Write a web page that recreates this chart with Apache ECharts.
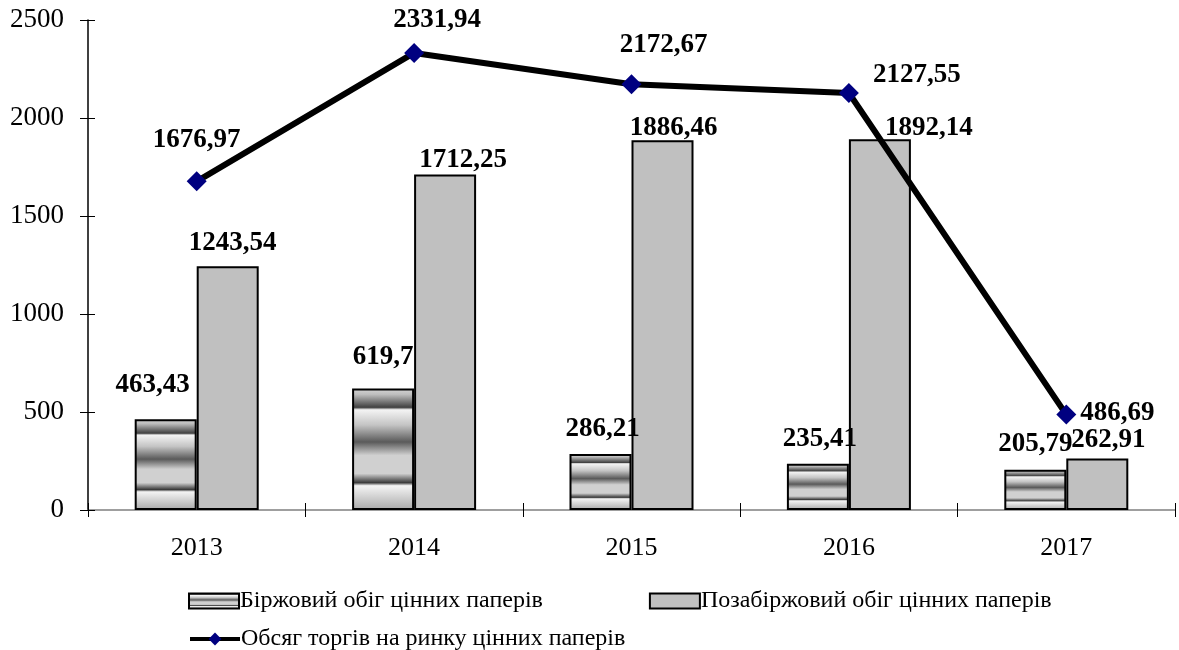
<!DOCTYPE html>
<html>
<head>
<meta charset="utf-8">
<script src="https://cdn.jsdelivr.net/npm/echarts@6/dist/echarts.min.js"></script>
<style>
  html, body { margin: 0; padding: 0; background: #fff; }
  #main { width: 1179px; height: 650px; }
</style>
</head>
<body>
<div id="main"></div>
<script>
// роки
var years = ['2013', '2014', '2015', '2016', '2017'];

// біржовий / позабіржовий обіг і загальний обсяг
var exchangeValues = [463.43, 619.7, 286.21, 235.41, 205.79];
var otcValues = [1243.54, 1712.25, 1886.46, 1892.14, 262.91];
var totalValues = [1676.97, 2331.94, 2172.67, 2127.55, 486.69];

var yTicks = [0, 500, 1000, 1500, 2000, 2500];

var seriesNames = [
    'Біржовий обіг цінних паперів',
    'Позабіржовий обіг цінних паперів',
    'Обсяг торгів на ринку цінних паперів'
];

// зсуви підписів (як у вихідному малюнку)
var exchangeLabelShift = [[-13, -21], [0, -18], [2, -11], [2, -11], [0, -12]];
var otcLabelShift = [[5, -10], [18, -1], [11, 1], [49, 2], [11, -5]];
var totalLabelShift = [[0, -41], [23, -33], [32, -39], [68, -18], [51, -2]];

var serif = 'Liberation Serif';

function fmt(v) {
    return String(v).replace('.', ',');
}

// смугаста заливка
var stripes = {
    type: 'linear', x: 0, y: 0, x2: 0, y2: 1,
    colorStops: [
        { offset: 0, color: '#d6d6d6' },
        { offset: 0.05, color: '#bdbdbd' },
        { offset: 0.155, color: '#404040' },
        { offset: 0.175, color: '#f4f4f4' },
        { offset: 0.3, color: '#c4c4c4' },
        { offset: 0.44, color: '#5a5a5a' },
        { offset: 0.55, color: '#d0d0d0' },
        { offset: 0.7, color: '#d0d0d0' },
        { offset: 0.775, color: '#3a3a3a' },
        { offset: 0.8, color: '#f4f4f4' },
        { offset: 1, color: '#a8a8a8' }
    ]
};

function labelled(values, shifts) {
    return values.map(function (v, i) {
        return { value: v, label: { offset: shifts[i] } };
    });
}

var labelFont = {
    show: true,
    fontFamily: serif,
    fontSize: 27,
    fontWeight: 'bold',
    color: '#000',
    formatter: function (p) { return fmt(p.value); }
};

var legendText = { fontFamily: serif, fontSize: 24, color: '#000', padding: [0, 0, 0, -4] };

var option = {
    backgroundColor: '#fff',
    animation: false,
    grid: { left: 88, right: 4, top: 20, bottom: 140 },
    legend: [
        {
            left: 183, top: 584,
            icon: 'rect',
            itemWidth: 50, itemHeight: 15, itemGap: 106,
            textStyle: legendText,
            data: [seriesNames[0], seriesNames[1]]
        },
        {
            left: 183, top: 622,
            itemWidth: 50, itemHeight: 16,
            lineStyle: { width: 4, color: '#000' },
            textStyle: legendText,
            data: [seriesNames[2]]
        }
    ],
    xAxis: [
        {
            type: 'category',
            data: years,
            axisLine: { lineStyle: { color: '#808080', width: 1.5 } },
            axisTick: { show: true, length: 7, lineStyle: { color: '#000' } },
            axisLabel: { fontFamily: serif, fontSize: 26, color: '#000', margin: 25 }
        },
        {
            type: 'category',
            data: years,
            position: 'bottom',
            axisLine: { show: false },
            axisTick: { show: true, inside: true, length: 7, lineStyle: { color: '#000' } },
            axisLabel: { show: false }
        }
    ],
    yAxis: [
        {
            type: 'value',
            min: yTicks[0],
            max: yTicks[yTicks.length - 1],
            interval: 500,
            splitLine: { show: false },
            axisLine: { show: true, lineStyle: { color: '#000', width: 1.5 } },
            axisTick: { show: true, length: 8, lineStyle: { color: '#000' } },
            axisLabel: {
                fontFamily: serif, fontSize: 27, color: '#000', margin: 24,
                formatter: function (v) { return String(v); }
            }
        },
        {
            type: 'value',
            position: 'left',
            min: yTicks[0],
            max: yTicks[yTicks.length - 1],
            interval: 500,
            splitLine: { show: false },
            axisLine: { show: false },
            axisTick: { show: true, inside: true, length: 7, lineStyle: { color: '#000' } },
            axisLabel: { show: false }
        }
    ],
    series: [
        {
            name: seriesNames[0],
            type: 'bar',
            barWidth: 62,
            barGap: '0%',
            itemStyle: { color: stripes, borderColor: '#000', borderWidth: 2 },
            label: Object.assign({ position: 'top', distance: 0 }, labelFont),
            data: labelled(exchangeValues, exchangeLabelShift)
        },
        {
            name: seriesNames[1],
            type: 'bar',
            barWidth: 62,
            barGap: '0%',
            itemStyle: { color: '#c0c0c0', borderColor: '#000', borderWidth: 2 },
            label: Object.assign({ position: 'top', distance: 0 }, labelFont),
            data: labelled(otcValues, otcLabelShift)
        },
        {
            name: seriesNames[2],
            type: 'line',
            symbol: 'diamond',
            symbolSize: 20,
            lineStyle: { color: '#000', width: 6 },
            itemStyle: { color: '#000080' },
            label: Object.assign({ position: 'inside' }, labelFont),
            data: labelled(totalValues, totalLabelShift),
            z: 5
        }
    ]
};

var myChart = echarts.init(document.getElementById('main'));
myChart.setOption(option);
</script>
</body>
</html>
